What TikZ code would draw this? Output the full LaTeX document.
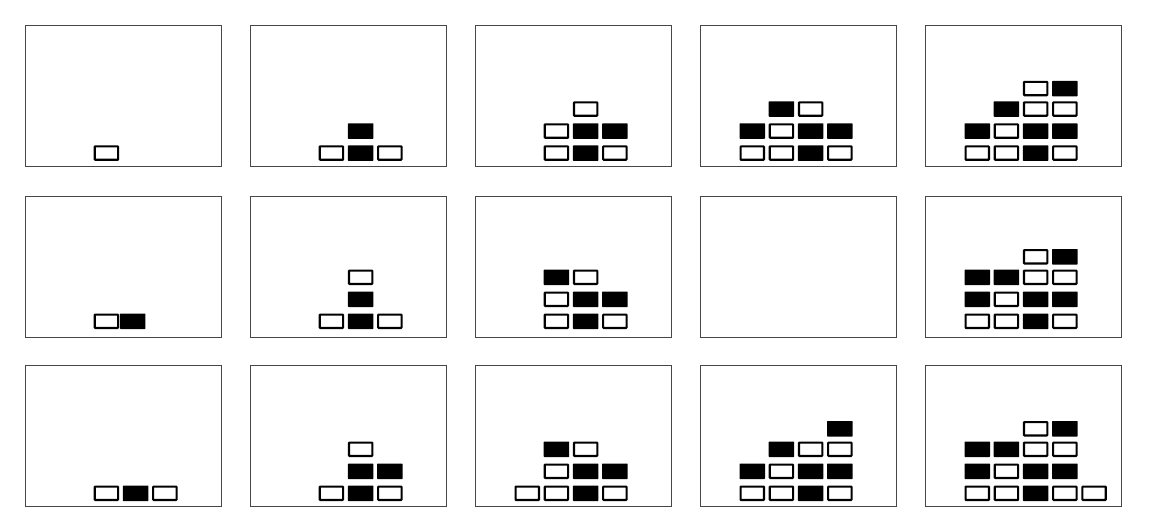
\documentclass[tikz,border=0pt]{standalone}
\tikzset{
  panelbox/.style={draw=black!72, line width=1pt},
  wb/.style={rectangle, draw=black, line width=2.1pt, fill=white, minimum width=23.4pt, minimum height=13.4pt, inner sep=0pt, outer sep=0pt, rounded corners=0.6pt},
  bb/.style={rectangle, fill=black, minimum width=25.5pt, minimum height=15.5pt, inner sep=0pt, outer sep=0pt, rounded corners=0.6pt},
}
% #1 name, #2 panel x, #3 panel y, #4 offset of bottom brick row, #5 list col/row/style
\newcommand\brickpanel[5]{%
  \draw[panelbox] (#2,#3) rectangle ++(196,141);
  \foreach \c/\r/\s [count=\k] in {#5} {
    \pgfmathsetmacro\bx{#2+39.5+29.2*\c+12.75}
    \pgfmathsetmacro\by{#3+#4+7.75-(\r==1?22:(\r==2?44:(\r==3?64.5:0)))}
    \node[\s] (#1-\k) at (\bx,\by) {};
  }
}
\begin{document}
\begin{tikzpicture}[x=1pt,y=-1pt]
\useasboundingbox (0,0) rectangle (1149,530);
% row 1
\brickpanel{p11}{25}{25.3}{120}{1/0/wb}
\brickpanel{p12}{250}{25.3}{120}{1/0/wb,2/0/bb,3/0/wb,2/1/bb}
\brickpanel{p13}{475}{25.3}{120}{1/0/wb,2/0/bb,3/0/wb,1/1/wb,2/1/bb,3/1/bb,2/2/wb}
\brickpanel{p14}{700}{25.3}{120}{0/0/wb,1/0/wb,2/0/bb,3/0/wb,0/1/bb,1/1/wb,2/1/bb,3/1/bb,1/2/bb,2/2/wb}
\brickpanel{p15}{925}{25.3}{120}{0/0/wb,1/0/wb,2/0/bb,3/0/wb,0/1/bb,1/1/wb,2/1/bb,3/1/bb,1/2/bb,2/2/wb,3/2/wb,2/3/wb,3/3/bb}
% row 2
\brickpanel{p21}{25}{196}{117.5}{1/0/wb,1.9/0/bb}
\brickpanel{p22}{250}{196}{117.5}{1/0/wb,2/0/bb,3/0/wb,2/1/bb,2/2/wb}
\brickpanel{p23}{475}{196}{117.5}{1/0/wb,2/0/bb,3/0/wb,1/1/wb,2/1/bb,3/1/bb,1/2/bb,2/2/wb}
\draw[panelbox] (700,196) rectangle ++(196,141);
\brickpanel{p25}{925}{196}{117.5}{0/0/wb,1/0/wb,2/0/bb,3/0/wb,0/1/bb,1/1/wb,2/1/bb,3/1/bb,0/2/bb,1/2/bb,2/2/wb,3/2/wb,2/3/wb,3/3/bb}
% row 3
\brickpanel{p31}{25}{365.5}{120}{1/0/wb,2/0/bb,3/0/wb}
\brickpanel{p32}{250}{365.5}{120}{1/0/wb,2/0/bb,3/0/wb,2/1/bb,3/1/bb,2/2/wb}
\brickpanel{p33}{475}{365.5}{120}{0/0/wb,1/0/wb,2/0/bb,3/0/wb,1/1/wb,2/1/bb,3/1/bb,1/2/bb,2/2/wb}
\brickpanel{p34}{700}{365.5}{120}{0/0/wb,1/0/wb,2/0/bb,3/0/wb,0/1/bb,1/1/wb,2/1/bb,3/1/bb,1/2/bb,2/2/wb,3/2/wb,3/3/bb}
\brickpanel{p35}{925}{365.5}{120}{0/0/wb,1/0/wb,2/0/bb,3/0/wb,4/0/wb,0/1/bb,1/1/wb,2/1/bb,3/1/bb,0/2/bb,1/2/bb,2/2/wb,3/2/wb,2/3/wb,3/3/bb}
\end{tikzpicture}
\end{document}
